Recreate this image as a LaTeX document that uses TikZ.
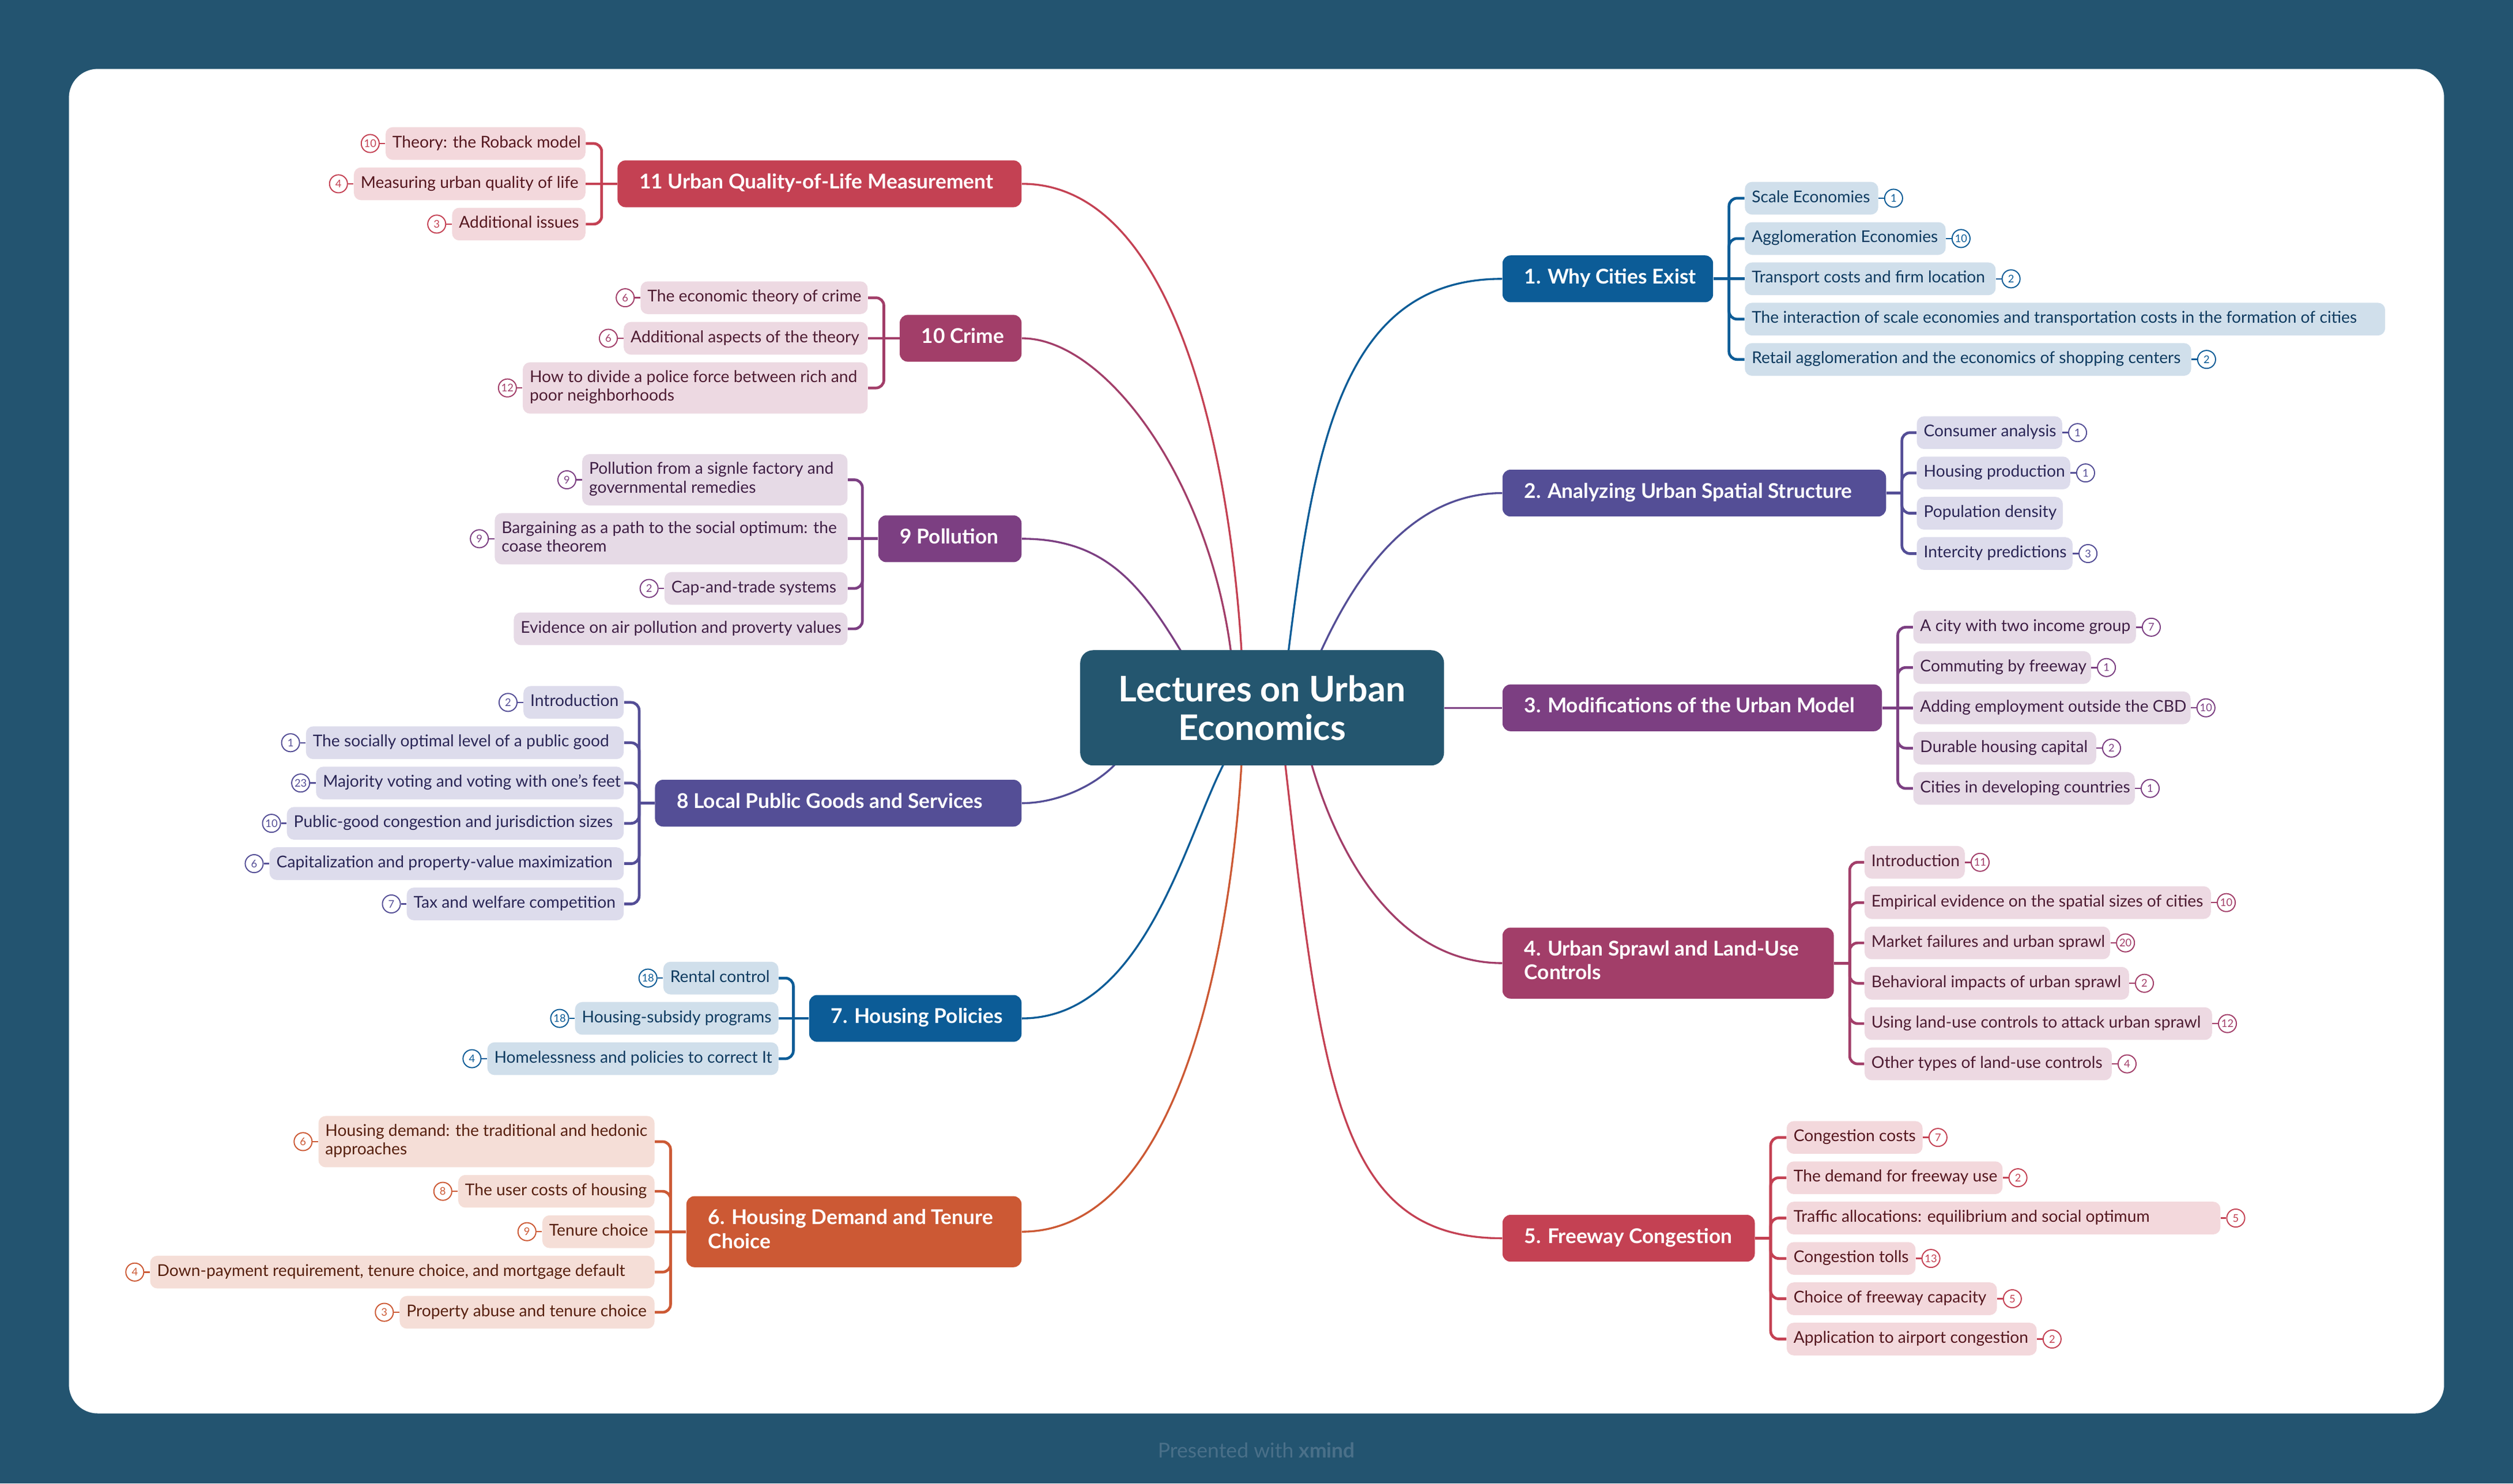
\documentclass[tikz,border=0pt]{standalone}
\usepackage{fontspec}
\setmainfont{Lato}
\usetikzlibrary{calc}
\pgfdeclarelayer{back}\pgfdeclarelayer{lines}
\pgfsetlayers{back,lines,main}
\definecolor{bgc}{HTML}{235470}
\definecolor{rootc}{HTML}{24566F}
\definecolor{footc}{HTML}{4A7089}
\definecolor{cBlue}{HTML}{0C5C97}\definecolor{lBlue}{HTML}{D0DFEB}\definecolor{tBlue}{HTML}{0E3B60}
\definecolor{cIndigo}{HTML}{544E96}\definecolor{lIndigo}{HTML}{DDDCEC}\definecolor{tIndigo}{HTML}{2A2656}
\definecolor{cPurple}{HTML}{7C3F82}\definecolor{lPurple}{HTML}{E6DAE6}\definecolor{tPurple}{HTML}{3F1F45}
\definecolor{cMag}{HTML}{A23E69}\definecolor{lMag}{HTML}{EDD9E2}\definecolor{tMag}{HTML}{4E1C32}
\definecolor{cRed}{HTML}{C44153}\definecolor{lRed}{HTML}{F3D8DC}\definecolor{tRed}{HTML}{55171F}
\definecolor{cOrange}{HTML}{CC5934}\definecolor{lOrange}{HTML}{F5DED7}\definecolor{tOrange}{HTML}{57200E}
% right-side subtopic: name, left x, y, width, colour, text, badge
\newcommand\SubR[7]{%
  \node[subbox, fill=l#5, text=t#5, anchor=west] (#1) at (#2,#3) {\makebox[\dimexpr#4pt-8.6pt\relax][l]{#6}};
  \if\relax\detokenize{#7}\relax\else
    \node[badge, draw=c#5, text=c#5] (#1b) at ($(#1.east)+(9.4,0)$) {#7};
    \draw[bl, draw=c#5] (#1.east) -- (#1b.west);
  \fi}
% left-side subtopic: name, right x, y, width, colour, text, badge
\newcommand\SubL[7]{%
  \node[subbox, fill=l#5, text=t#5, anchor=east] (#1) at (#2,#3) {\makebox[\dimexpr#4pt-8.6pt\relax][l]{#6}};
  \if\relax\detokenize{#7}\relax\else
    \node[badge, draw=c#5, text=c#5] (#1b) at ($(#1.west)+(-9.4,0)$) {#7};
    \draw[bl, draw=c#5] (#1.west) -- (#1b.east);
  \fi}
% left-side two-line subtopic
\newcommand\SubLL[8]{%
  \node[subboxtwo, fill=l#5, text=t#5, anchor=east] (#1) at (#2,#3) {\makebox[\dimexpr#4pt-8.6pt\relax][l]{\begin{tabular}{@{}l@{}}#6\\#7\end{tabular}}};
  \node[badge, draw=c#5, text=c#5] (#1b) at ($(#1.west)+(-9.4,0)$) {#8};
  \draw[bl, draw=c#5] (#1.west) -- (#1b.east);}
% main topics: name, anchor, x, y, width, colour, text
\newcommand\TopicOne[7]{%
  \node[topic, fill=c#6, anchor=#2] (#1) at (#3,#4) {\makebox[\dimexpr#5pt-27.2pt\relax][l]{#7}};}
\newcommand\TopicTwo[8]{%
  \node[topictwo, fill=c#6, anchor=#2] (#1) at (#3,#4) {\makebox[\dimexpr#5pt-27.2pt\relax][l]{\begin{tabular}{@{}l@{}}#7\\#8\end{tabular}}};}
\begin{document}
\begin{tikzpicture}[x=1pt,y=-1pt,
  subbox/.style={rounded corners=4.5pt, inner xsep=4.3pt, inner ysep=0pt, minimum height=20.4pt,
    font=\fontsize{10.15}{11.6}\selectfont, text height=7.4pt, text depth=2.3pt},
  subboxtwo/.style={rounded corners=4.5pt, inner xsep=4.3pt, inner ysep=0pt, minimum height=32pt,
    font=\fontsize{10.15}{11.6}\selectfont},
  topic/.style={rounded corners=5pt, inner xsep=13.6pt, inner ysep=0pt, minimum height=29.2pt,
    text=white, font=\fontsize{12.7}{14.8}\selectfont\bfseries, text height=9pt, text depth=2.7pt},
  topictwo/.style={rounded corners=5pt, inner xsep=13.6pt, inner ysep=0pt, minimum height=44.3pt,
    text=white, font=\fontsize{12.7}{14.8}\selectfont\bfseries},
  badge/.style={circle, fill=white, line width=0.7pt, inner sep=0pt, minimum size=11.2pt,
    font=\fontsize{6.6}{6.6}\selectfont},
  bl/.style={line width=0.9pt},
  br/.style={line width=1.7pt},
  crv/.style={line width=1.2pt},
  rootbox/.style={fill=rootc, rounded corners=8pt, minimum width=227pt, minimum height=71.9pt,
    text=white, font=\fontsize{22}{24.2}\selectfont\bfseries, align=center, inner sep=0pt}]
\useasboundingbox (0,0) rectangle (1568,925.7);
\begin{pgfonlayer}{back}
  \fill[bgc] (0,0) rectangle (1568,925.7);
  \fill[white, rounded corners=18pt] (43,43) rectangle (1525,882);
\end{pgfonlayer}
\node[text=footc, font=\fontsize{12.8}{13}\selectfont] (foot) at (784,905) {Presented with \textbf{xmind}};

\node[rootbox] (root) at (787.5,441.7) {Lectures on Urban\\Economics};

% main topics
\TopicOne{T1}{west}{937.3}{174}{131.4}{Blue}{1. Why Cities Exist}
\TopicOne{T2}{west}{937.3}{307.7}{239.3}{Indigo}{2. Analyzing Urban Spatial Structure}
\TopicOne{T3}{west}{937.3}{441.7}{236.7}{Purple}{3. Modifications of the Urban Model}
\TopicTwo{T4}{west}{937.3}{601}{206.7}{Mag}{4. Urban Sprawl and Land-Use}{Controls}
\TopicOne{T5}{west}{937.3}{772.7}{157.4}{Red}{5. Freeway Congestion}
\TopicOne{T11}{east}{637.6}{114.7}{252.1}{Red}{11 Urban Quality-of-Life Measurement}
\TopicOne{T10}{east}{637.6}{211.1}{76}{Mag}{10 Crime}
\TopicOne{T9}{east}{637.6}{336.2}{89.4}{Purple}{9 Pollution}
\TopicOne{T8}{east}{637.6}{501.2}{228.7}{Indigo}{8 Local Public Goods and Services}
\TopicOne{T7}{east}{637.6}{635.5}{132.5}{Blue}{7. Housing Policies}
\TopicTwo{T6}{east}{637.6}{768.6}{209.1}{Orange}{6. Housing Demand and Tenure}{Choice}

% 1
\SubR{s1a}{1088.5}{123.7}{83.2}{Blue}{Scale Economies}{1}
\SubR{s1b}{1088.5}{148.85}{125.3}{Blue}{Agglomeration Economies}{10}
\SubR{s1c}{1088.5}{174}{156.5}{Blue}{Transport costs and firm location}{2}
\SubR{s1d}{1088.5}{199.15}{399.5}{Blue}{The interaction of scale economies and transportation costs in the formation of cities}{}
\SubR{s1e}{1088.5}{224.3}{278.5}{Blue}{Retail agglomeration and the economics of shopping centers}{2}
% 2
\SubR{s2a}{1195.8}{269.98}{90.7}{Indigo}{Consumer analysis}{1}
\SubR{s2b}{1195.8}{295.13}{95.7}{Indigo}{Housing production}{1}
\SubR{s2c}{1195.8}{320.28}{91.1}{Indigo}{Population density}{}
\SubR{s2d}{1195.8}{345.43}{97.2}{Indigo}{Intercity predictions}{3}
% 3
\SubR{s3a}{1193.6}{391.4}{138.9}{Purple}{A city with two income group}{7}
\SubR{s3b}{1193.6}{416.55}{110.9}{Purple}{Commuting by freeway}{1}
\SubR{s3c}{1193.6}{441.7}{173}{Purple}{Adding employment outside the CBD}{10}
\SubR{s3d}{1193.6}{466.85}{114.1}{Purple}{Durable housing capital}{2}
\SubR{s3e}{1193.6}{492}{138.2}{Purple}{Cities in developing countries}{1}
% 4
\SubR{s4a}{1163.2}{538.1}{62.5}{Mag}{Introduction}{11}
\SubR{s4b}{1163.2}{563.25}{216.1}{Mag}{Empirical evidence on the spatial sizes of cities}{10}
\SubR{s4c}{1163.2}{588.4}{153.2}{Mag}{Market failures and urban sprawl}{20}
\SubR{s4d}{1163.2}{613.6}{165}{Mag}{Behavioral impacts of urban sprawl}{2}
\SubR{s4e}{1163.2}{638.75}{216.8}{Mag}{Using land-use controls to attack urban sprawl}{12}
\SubR{s4f}{1163.2}{663.9}{154.2}{Mag}{Other types of land-use controls}{4}
% 5
\SubR{s5a}{1114.6}{709.8}{84.8}{Red}{Congestion costs}{7}
\SubR{s5b}{1114.6}{734.95}{134.7}{Red}{The demand for freeway use}{2}
\SubR{s5c}{1114.6}{760.1}{270.6}{Red}{Traffic allocations: equilibrium and social optimum}{5}
\SubR{s5d}{1114.6}{785.3}{80.4}{Red}{Congestion tolls}{13}
\SubR{s5e}{1114.6}{810.45}{131.2}{Red}{Choice of freeway capacity}{5}
\SubR{s5f}{1114.6}{835.6}{156}{Red}{Application to airport congestion}{2}
% 11
\SubL{s11a}{365.5}{89.55}{124.7}{Red}{Theory: the Roback model}{10}
\SubL{s11b}{365.5}{114.7}{144.5}{Red}{Measuring urban quality of life}{4}
\SubL{s11c}{365.5}{139.85}{83.2}{Red}{Additional issues}{3}
% 10
\SubL{s10a}{541.6}{185.8}{141.7}{Mag}{The economic theory of crime}{6}
\SubL{s10b}{541.6}{211.1}{152.2}{Mag}{Additional aspects of the theory}{6}
\SubLL{s10c}{541.6}{242.1}{215.2}{Mag}{How to divide a police force between rich and}{poor neighborhoods}{12}
% 9
\SubLL{s9a}{529}{299.4}{165.5}{Purple}{Pollution from a signle factory and}{governmental remedies}{9}
\SubLL{s9b}{529}{336.2}{220.1}{Purple}{Bargaining as a path to the social optimum: the}{coase theorem}{9}
\SubL{s9c}{529}{367.2}{114.2}{Purple}{Cap-and-trade systems}{2}
\SubL{s9d}{529}{392.4}{208.2}{Purple}{Evidence on air pollution and proverty values}{}
% 8
\SubL{s8a}{389.4}{438.33}{62.6}{Indigo}{Introduction}{2}
\SubL{s8b}{389.4}{463.48}{198.3}{Indigo}{The socially optimal level of a public good}{1}
\SubL{s8c}{389.4}{488.63}{192}{Indigo}{Majority voting and voting with one's feet}{23}
\SubL{s8d}{389.4}{513.78}{210.2}{Indigo}{Public-good congestion and jurisdiction sizes}{10}
\SubL{s8e}{389.4}{538.93}{221}{Indigo}{Capitalization and property-value maximization}{6}
\SubL{s8f}{389.4}{564.08}{135.4}{Indigo}{Tax and welfare competition}{7}
% 7
\SubL{s7a}{485.9}{610.35}{71.8}{Blue}{Rental control}{18}
\SubL{s7b}{485.9}{635.5}{126.9}{Blue}{Housing-subsidy programs}{18}
\SubL{s7c}{485.9}{660.65}{181.6}{Blue}{Homelessness and policies to correct It}{4}
% 6
\SubLL{s6a}{408.6}{712.4}{209.7}{Orange}{Housing demand: the traditional and hedonic}{approaches}{6}
\SubL{s6b}{408.6}{743.4}{122.5}{Orange}{The user costs of housing}{8}
\SubL{s6c}{408.6}{768.6}{70}{Orange}{Tenure choice}{9}
\SubL{s6d}{408.6}{793.8}{314.7}{Orange}{Down-payment requirement, tenure choice, and mortgage default}{4}
\SubL{s6e}{408.6}{818.9}{159}{Orange}{Property abuse and tenure choice}{3}

\begin{pgfonlayer}{lines}
  % curves from the central topic
  \coordinate (r1) at (803.5,410);  \coordinate (r2) at (823,409);
  \coordinate (r4) at (817.5,474);  \coordinate (r5) at (801.6,474);
  \coordinate (r11) at (774.8,409); \coordinate (r10) at (768.3,409);
  \coordinate (r9) at (738.5,409);  \coordinate (r8) at (698.5,474);
  \coordinate (r7) at (765,474);    \coordinate (r6) at (774.8,474);
  \draw[crv, cBlue] (r1) .. controls (820,277) and (837.4,174) .. (T1.west);
  \draw[crv, cIndigo] (r2) .. controls (845,360) and (880,307.7) .. (T2.west);
  \draw[crv, cPurple] (root.east) -- (T3.west);
  \draw[crv, cMag] (r4) .. controls (836,540) and (875,601) .. (T4.west);
  \draw[crv, cRed] (r5) .. controls (825,680) and (835.9,772.7) .. (T5.west);
  \draw[crv, cRed] (r11) .. controls (768,290) and (735,114.7) .. (T11.east);
  \draw[crv, cMag] (r10) .. controls (755,300) and (690,211.1) .. (T10.east);
  \draw[crv, cPurple] (r9) .. controls (712,365) and (690,336.2) .. (T9.east);
  \draw[crv, cIndigo] (r8) .. controls (685,490) and (660,501.2) .. (T8.east);
  \draw[crv, cBlue] (r7) .. controls (740,520) and (715,635.5) .. (T7.east);
  \draw[crv, cOrange] (r6) .. controls (768,592.6) and (735,768.6) .. (T6.east);
  % branch junctions
  \coordinate (j1) at ($(T1.east)+(9.7,0)$);
  \coordinate (j2) at ($(T2.east)+(9.7,0)$);
  \coordinate (j3) at ($(T3.east)+(9.7,0)$);
  \coordinate (j4) at ($(T4.east)+(9.7,0)$);
  \coordinate (j5) at ($(T5.east)+(9.7,0)$);
  \coordinate (j11) at ($(T11.west)+(-9.7,0)$);
  \coordinate (j10) at ($(T10.west)+(-9.7,0)$);
  \coordinate (j9) at ($(T9.west)+(-9.7,0)$);
  \coordinate (j8) at ($(T8.west)+(-9.7,0)$);
  \coordinate (j7) at ($(T7.west)+(-9.7,0)$);
  \coordinate (j6) at ($(T6.west)+(-9.7,0)$);
  \begin{scope}[br, rounded corners=5pt]
    \draw[cBlue] (T1.east) -- (s1c.west);
    \foreach \s in {s1a,s1b,s1d,s1e} \draw[cBlue] (j1) |- (\s.west);
    \draw[cIndigo] (T2.east) -- (j2);
    \foreach \s in {s2a,s2b,s2c,s2d} \draw[cIndigo] (j2) |- (\s.west);
    \draw[cPurple] (T3.east) -- (s3c.west);
    \foreach \s in {s3a,s3b,s3d,s3e} \draw[cPurple] (j3) |- (\s.west);
    \draw[cMag] (T4.east) -- (j4);
    \foreach \s in {s4a,s4b,s4c,s4d,s4e,s4f} \draw[cMag] (j4) |- (\s.west);
    \draw[cRed] (T5.east) -- (j5);
    \foreach \s in {s5a,s5b,s5c,s5d,s5e,s5f} \draw[cRed] (j5) |- (\s.west);
    \draw[cRed] (T11.west) -- (s11b.east);
    \foreach \s in {s11a,s11c} \draw[cRed] (j11) |- (\s.east);
    \draw[cMag] (T10.west) -- (s10b.east);
    \foreach \s in {s10a,s10c} \draw[cMag] (j10) |- (\s.east);
    \draw[cPurple] (T9.west) -- (s9b.east);
    \foreach \s in {s9a,s9c,s9d} \draw[cPurple] (j9) |- (\s.east);
    \draw[cIndigo] (T8.west) -- (j8);
    \foreach \s in {s8a,s8b,s8c,s8d,s8e,s8f} \draw[cIndigo] (j8) |- (\s.east);
    \draw[cBlue] (T7.west) -- (s7b.east);
    \foreach \s in {s7a,s7c} \draw[cBlue] (j7) |- (\s.east);
    \draw[cOrange] (T6.west) -- (s6c.east);
    \foreach \s in {s6a,s6b,s6d,s6e} \draw[cOrange] (j6) |- (\s.east);
  \end{scope}
\end{pgfonlayer}
\end{tikzpicture}
\end{document}
